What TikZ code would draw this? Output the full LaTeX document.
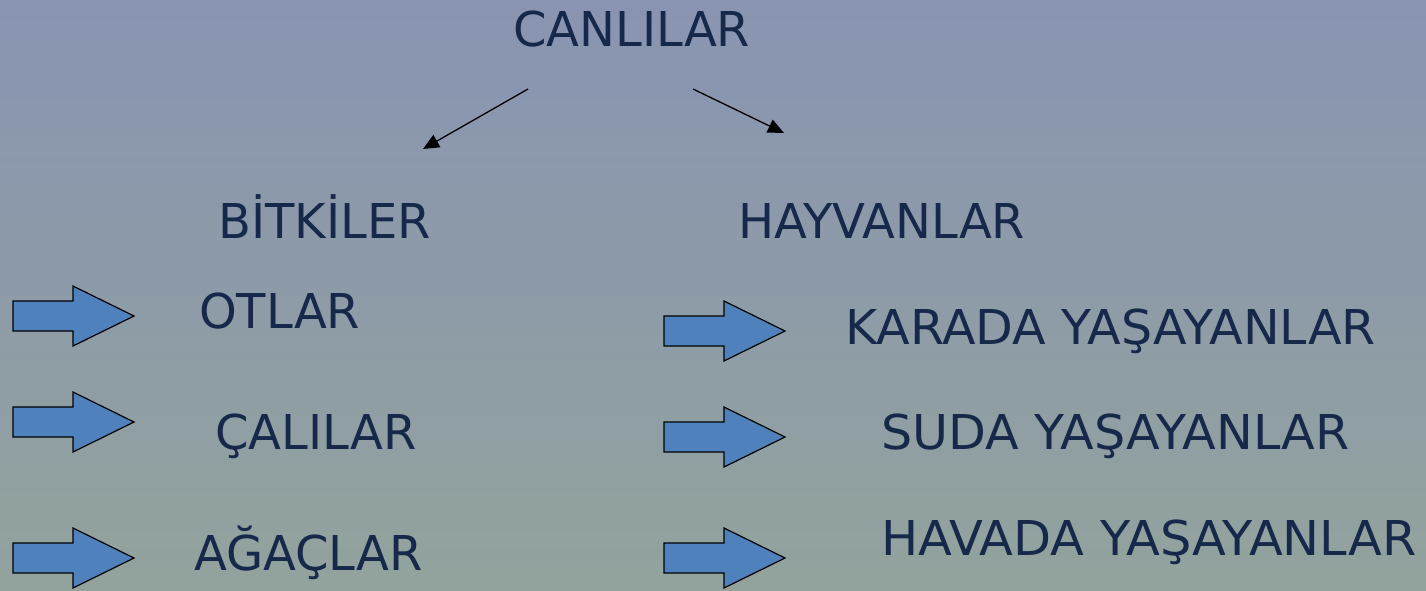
\documentclass[tikz,border=0pt]{standalone}
\usepackage{fontspec}
\setmainfont{DejaVu Sans}
\usetikzlibrary{arrows.meta}
\definecolor{bgtop}{HTML}{8994B2}
\definecolor{bgbot}{HTML}{92A39D}
\definecolor{yazi}{HTML}{17294A}
\definecolor{okmavi}{HTML}{4F81BD}
\tikzset{
	baslik/.style={anchor=base west,inner sep=0pt,text=yazi,font=\fontsize{48}{58}\selectfont},
	blokok/.style={draw=black,line width=1.2pt,fill=okmavi,line join=miter}
}
\begin{document}
\begin{tikzpicture}[x=1pt,y=-1pt,>={Triangle[length=16pt,width=14pt]}]
				\shade[top color=bgtop,bottom color=bgbot] (0,0) rectangle (1426,590);
				\useasboundingbox (0,0) rectangle (1426,590);
				\node[baslik] (canlilar) at (513,46) {CANLILAR};
				\node[baslik] (bitkiler) at (218,238) {BİTKİLER};
				\node[baslik] (hayvanlar) at (738,238) {HAYVANLAR};
				\node[baslik] (otlar) at (199,328) {OTLAR};
				\node[baslik] (calilar) at (215,449) {ÇALILAR};
				\node[baslik] (agaclar) at (194,570) {AĞAÇLAR};
				\node[baslik,xscale=1.022] (karada) at (845,344) {KARADA YAŞAYANLAR};
				\node[baslik,xscale=1.024] (suda) at (881,449) {SUDA YAŞAYANLAR};
				\node[baslik,xscale=1.03] (havada) at (881,555) {HAVADA YAŞAYANLAR};
				\coordinate (sol1) at (528,89);
				\coordinate (sol2) at (423,149);
				\coordinate (sag1) at (693,89);
				\coordinate (sag2) at (784,133);
				\draw[->,line width=1.3pt] (sol1)--(sol2);
				\draw[->,line width=1.3pt] (sag1)--(sag2);
				\foreach \x/\y in {13/316,13/422,13/558,664/331,664/437,664/558}{
					\draw[blokok] (\x,\y-15)--(\x+60,\y-15)--(\x+60,\y-30)--(\x+121,\y)--(\x+60,\y+30)--(\x+60,\y+15)--(\x,\y+15)--cycle;
				}
			\end{tikzpicture}
\end{document}
